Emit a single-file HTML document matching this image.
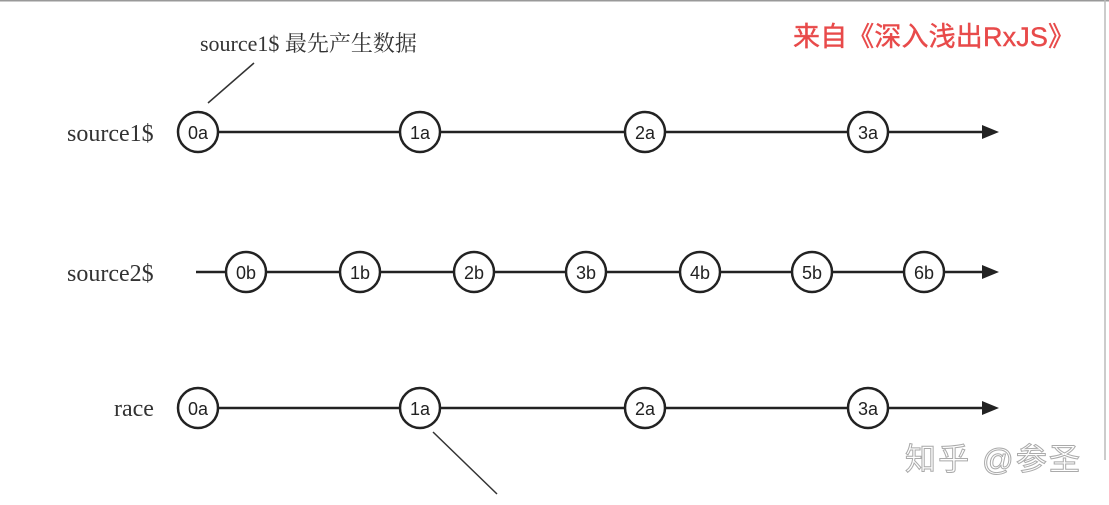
<!DOCTYPE html>
<html><head><meta charset="utf-8"><style>
html,body{margin:0;padding:0;background:#fff;width:1109px;height:505px;overflow:hidden}
svg{display:block}
</style></head><body>
<svg width="1109" height="505" xmlns="http://www.w3.org/2000/svg">
<line x1="0" y1="0.5" x2="1109" y2="0.5" stroke="#999" stroke-width="2"/>
<line x1="1105" y1="0" x2="1105" y2="460" stroke="#bbb" stroke-width="1.5"/>
<g font-family="Liberation Serif, 'Noto Serif CJK SC', serif" font-size="22" fill="#333">
<text x="200" y="51">source1$ 最先产生数据</text>
</g>
<g font-family="Liberation Serif, serif" font-size="24" fill="#333">
<text x="67" y="141">source1$</text>
<text x="67" y="281">source2$</text>
<text x="114" y="416">race</text>
</g>
<text x="793" y="46" font-family="Liberation Sans, 'Noto Sans CJK SC', sans-serif" font-size="27" fill="#e84a4a" stroke="#e84a4a" stroke-width="0.4" textLength="282">来自《深入浅出RxJS》</text>
<text x="905" y="470" font-family="Liberation Sans, 'Noto Sans CJK SC', sans-serif" font-size="31" fill="#fff" stroke="#aaa" stroke-width="1" textLength="175">知乎 @参圣</text>
<line x1="208" y1="103" x2="254" y2="63" stroke="#333" stroke-width="1.5"/>
<line x1="433" y1="432" x2="497" y2="494" stroke="#333" stroke-width="1.5"/>
<g stroke="#222" stroke-width="2.5">
<line x1="218" y1="132" x2="990" y2="132"/>
<line x1="196" y1="272" x2="990" y2="272"/>
<line x1="218" y1="408" x2="990" y2="408"/>
</g>
<g fill="#222">
<path d="M982,125 L999,132 L982,139z"/>
<path d="M982,265 L999,272 L982,279z"/>
<path d="M982,401 L999,408 L982,415z"/>
</g>
<g stroke="#222" stroke-width="2.5" fill="#fff">
<circle cx="198" cy="132" r="20"/><circle cx="420" cy="132" r="20"/><circle cx="645" cy="132" r="20"/><circle cx="868" cy="132" r="20"/>
<circle cx="246" cy="272" r="20"/><circle cx="360" cy="272" r="20"/><circle cx="474" cy="272" r="20"/><circle cx="586" cy="272" r="20"/><circle cx="700" cy="272" r="20"/><circle cx="812" cy="272" r="20"/><circle cx="924" cy="272" r="20"/>
<circle cx="198" cy="408" r="20"/><circle cx="420" cy="408" r="20"/><circle cx="645" cy="408" r="20"/><circle cx="868" cy="408" r="20"/>
</g>
<g font-family="Liberation Sans, sans-serif" font-size="18" fill="#222" text-anchor="middle">
<text x="198" y="139">0a</text><text x="420" y="139">1a</text><text x="645" y="139">2a</text><text x="868" y="139">3a</text>
<text x="246" y="279">0b</text><text x="360" y="279">1b</text><text x="474" y="279">2b</text><text x="586" y="279">3b</text><text x="700" y="279">4b</text><text x="812" y="279">5b</text><text x="924" y="279">6b</text>
<text x="198" y="415">0a</text><text x="420" y="415">1a</text><text x="645" y="415">2a</text><text x="868" y="415">3a</text>
</g>
</svg>
</body></html>
